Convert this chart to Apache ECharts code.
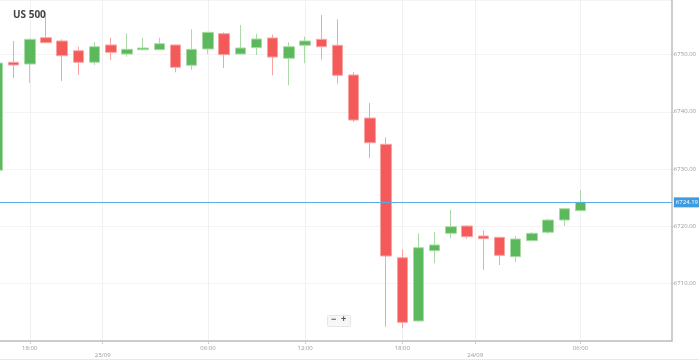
<!DOCTYPE html>
<html>
<head>
<meta charset="utf-8">
<style>html,body{margin:0;padding:0;background:#fff}#c{width:699px;height:360px}</style>
<script src="https://cdn.jsdelivr.net/npm/echarts@6/dist/echarts.min.js"></script>
</head>
<body>
<div id="c"></div>
<script>
// Hourly candles (22/09 16:00 -> 24/09 06:00)
var times = ['16:00','17:00','18:00','19:00','20:00','21:00','22:00',
  '00:00','01:00','02:00','03:00','04:00','05:00','06:00','07:00','08:00','09:00','10:00','11:00','12:00',
  '13:00','14:00','15:00','16:00','17:00','18:00','19:00','20:00','21:00','22:00',
  '00:00','01:00','02:00','03:00','04:00','05:00','06:00'];
var dates = ['22/09','23/09','24/09'];
var opens  = [6729.8,6748.63,6748.33,6752.92,6752.35,6750.65,6748.63,6751.65,6750.08,6750.83,6750.83,6751.65,6748.11,6750.95,6753.62,6750.08,6751.18,6752.87,6749.33,6751.60,6752.64,6751.60,6746.41,6738.9,6734.32,6714.53,6703.49,6715.76,6718.79,6720.06,6718.32,6718.09,6714.71,6717.50,6718.97,6721.11,6722.74];
var closes = [6748.5,6748.16,6752.64,6752.05,6749.78,6748.63,6751.35,6750.37,6750.90,6751.12,6751.87,6747.76,6750.90,6753.86,6749.96,6751.12,6752.69,6749.55,6751.35,6752.35,6751.35,6746.36,6738.56,6734.60,6714.83,6703.26,6716.28,6716.75,6719.94,6718.20,6717.85,6714.95,6717.80,6718.79,6721.11,6723.08,6724.19];
var lows   = [6729.5,6745.89,6745.02,6751.94,6745.37,6746.41,6748.16,6749.03,6749.61,6750.65,6750.80,6746.88,6747.29,6750.08,6747.63,6750.00,6749.90,6746.36,6744.62,6748.45,6749.08,6744.90,6738.21,6731.88,6702.49,6702.21,6703.40,6713.56,6717.92,6717.85,6712.39,6713.26,6713.78,6717.40,6718.67,6720.06,6722.70];
var highs  = [6748.8,6752.35,6752.82,6757.41,6752.64,6751.35,6752.12,6752.92,6753.69,6752.92,6752.92,6751.70,6754.39,6753.90,6753.86,6755.14,6753.62,6753.45,6752.12,6753.10,6756.88,6756.13,6746.94,6741.53,6735.54,6716.00,6718.79,6719.02,6722.86,6720.20,6719.24,6718.10,6718.32,6719.00,6721.34,6723.10,6726.35];
var shownTimes = ['18:00','06:00','12:00'];
var currentPrice = 6724.19;
var yTicks = [6710, 6720, 6730, 6740, 6750];

var candleData = times.map(function (t, i) { return [i, opens[i], closes[i], lows[i], highs[i]]; });

// tick positions derived from the candle times
var tickVals = [], tickText = {}, dateVals = [];
var dayIdx = 0;
times.forEach(function (t, i) {
  if (i > 0 && t === '00:00') {
    dayIdx++;
    var p = i - 0.5;
    tickVals.push(p); tickText[p] = '\n' + dates[dayIdx]; dateVals.push(p);
  }
  if (shownTimes.indexOf(t) >= 0) { tickVals.push(i); tickText[i] = t; }
});
tickVals.sort(function (a, b) { return a - b; });

var chart = echarts.init(document.getElementById('c'), null, {renderer: 'canvas'});
chart.setOption({
  animation: false,
  backgroundColor: '#fff',
  title: {text: 'US 500', left: 8, top: 5, textStyle: {fontSize: 10, fontWeight: 'bold', color: '#444', fontFamily: 'Open Sans'}},
  grid: {left: 0, right: 22, top: 0, bottom: 19},
  xAxis: {
    type: 'value', min: 0.162, max: 41.64,
    axisLine: {show: true, onZero: false, lineStyle: {color: '#bdbdbd', width: 1.5}},
    axisTick: {show: true, length: 3, customValues: tickVals, lineStyle: {color: '#ccc'}},
    axisLabel: {customValues: tickVals, formatter: function (v) { return tickText[v] || ''; },
      fontSize: 6, color: '#999', margin: 4, lineHeight: 7, fontFamily: 'Open Sans'},
    splitLine: {show: true, lineStyle: {color: '#f0f0f0', width: 1}}
  },
  yAxis: {
    type: 'value', position: 'right', min: 6700, max: 6759.5, interval: 10, scale: true,
    axisLine: {show: true, lineStyle: {color: '#bdbdbd', width: 1.5}},
    axisTick: {show: true, length: 2, lineStyle: {color: '#ccc'}},
    axisLabel: {showMinLabel: false, showMaxLabel: false, fontSize: 6, color: '#999', margin: 2,
      fontFamily: 'Open Sans', formatter: function (v) { return v.toFixed(2); }},
    splitLine: {show: true, lineStyle: {color: '#f3f3f3'}}
  },
  series: [{
    type: 'candlestick',
    data: candleData,
    encode: {x: 0, y: [1, 2, 3, 4]},
    barWidth: 11,
    itemStyle: {color: '#5cb85c', color0: '#f55a5a', borderColor: '#a9dca5', borderColor0: '#f9a3a3', borderWidth: 1},
    markLine: {
      silent: true, symbol: 'none',
      data: [{yAxis: currentPrice}],
      lineStyle: {color: '#5aaae6', width: 1, type: 'solid'},
      label: {show: true, position: 'end', formatter: function () { return currentPrice.toFixed(2); },
        backgroundColor: '#3d9be0', color: '#fff', fontSize: 6, padding: [2, 2], distance: 2, fontFamily: 'Open Sans'}
    }
  }],
  graphic: [
    {type: 'rect', left: 327, top: 315, shape: {width: 23, height: 11, r: 1}, style: {fill: '#f7f7f7', stroke: '#e6e6e6', lineWidth: 1}},
    {type: 'text', left: 331, top: 315, style: {text: '−', fontSize: 9, fill: '#555', fontWeight: 'bold'}},
    {type: 'text', left: 341, top: 315, style: {text: '+', fontSize: 9, fill: '#555', fontWeight: 'bold'}},
    {type: 'rect', left: 0, top: 359, shape: {width: 699, height: 1}, style: {fill: '#e8e8e8'}}
  ]
});
</script>
</body>
</html>
